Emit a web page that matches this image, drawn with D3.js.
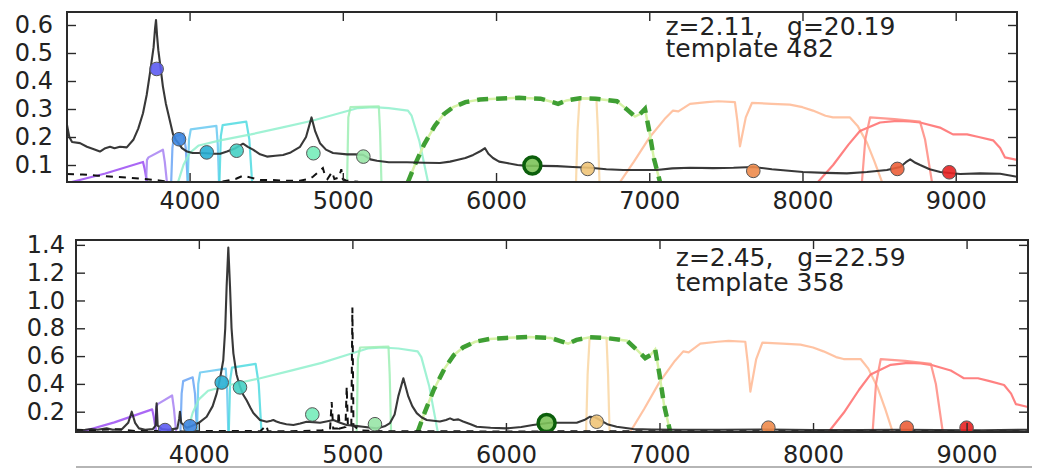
<!DOCTYPE html>
<html><head><meta charset="utf-8">
<script src="https://cdn.jsdelivr.net/npm/d3@7"></script>
<style>
body{margin:0;background:#fff;}
svg{display:block;font-family:"DejaVu Sans","Bitstream Vera Sans",sans-serif;}
</style>
</head><body>
<svg id="c" width="1038" height="469"></svg>
<script>
// ---------------- DATA ----------------
const wlDomain = [3200, 9400];
const wlTicks = [4000, 5000, 6000, 7000, 8000, 9000];
const yTicksTop = [0.1, 0.2, 0.3, 0.4, 0.5, 0.6];
const yTicksBot = [0.2, 0.4, 0.6, 0.8, 1.0, 1.2, 1.4];
const yDomainTop = [0.0393, 0.6464];
const yDomainBot = [0.054, 1.435];
const labelsTop = ["z=2.11,   g=20.19", "template 482"];
const labelsBot = ["z=2.45,   g=22.59", "template 358"];

// filter transmission curves (relative height of the panel, 0..1)
const filterU1 = [[3230,0],[3450,0.05],[3696,0.118],[3706,0.08],[3722,0]];
const filterU2 = [[3716,0],[3722,0.13],[3732,0.145],[3826,0.19],[3838,0.12],[3852,0]];
const filterB1 = [[3880,0],[3888,0.2],[3898,0.265],[3960,0.285],[3975,0.2],[3988,0]];
const filterB2 = [[3988,0],[3996,0.25],[4008,0.31],[4175,0.33],[4184,0.22],[4192,0]];
const filterB3 = [[4195,0],[4204,0.27],[4216,0.335],[4370,0.355],[4390,0.25],[4408,0]];
const filterBroad1 = [[3925,0],[3960,0.1],[4000,0.17],[4060,0.215],[4200,0.245],[4400,0.28],[4600,0.32],[4800,0.36],[5000,0.41],[5100,0.435],[5200,0.44],[5300,0.435],[5425,0.42],[5449,0.39],[5500,0.24],[5556,0]];
const filterN1 = [[5028,0],[5036,0.38],[5050,0.44],[5235,0.445],[5243,0.3],[5252,0]];
const filterR = [[5425,0],[5470,0.1],[5530,0.22],[5600,0.33],[5660,0.4],[5720,0.44],[5800,0.47],[5895,0.485],[6000,0.49],[6150,0.495],[6290,0.49],[6350,0.475],[6405,0.46],[6460,0.48],[6548,0.493],[6650,0.49],[6789,0.475],[6850,0.43],[6907,0.385],[6940,0.4],[6972,0.43],[7000,0.3],[7030,0.14],[7070,0]];
const filterN2 = [[6522,0],[6532,0.3],[6545,0.49],[6655,0.49],[6665,0.3],[6675,0]];
const filterI = [[6809,0],[6900,0.12],[7000,0.26],[7100,0.37],[7155,0.42],[7190,0.415],[7266,0.46],[7377,0.47],[7450,0.475],[7559,0.47],[7575,0.36],[7592,0.21],[7630,0.38],[7670,0.465],[7800,0.46],[7918,0.455],[8000,0.44],[8068,0.42],[8150,0.39],[8199,0.38],[8310,0.38],[8360,0.33],[8421,0.23],[8470,0.12],[8519,0]];
const filterZ = [[8101,0],[8200,0.1],[8300,0.22],[8375,0.3],[8506,0.35],[8617,0.36],[8700,0.357],[8767,0.35],[8897,0.32],[8940,0.3],[8982,0.28],[9074,0.28],[9150,0.265],[9244,0.245],[9290,0.2],[9321,0.145],[9400,0.13]];
const filterN3 = [[8388,0],[8410,0.25],[8441,0.38],[8600,0.37],[8767,0.355],[8800,0.25],[8845,0]];

// observed-frame spectra (flux)
const specTop = [[3200,0.243],[3215,0.2],[3233,0.182],[3285,0.178],[3330,0.165],[3380,0.155],[3415,0.148],[3450,0.16],[3481,0.165],[3510,0.16],[3546,0.165],[3590,0.163],[3633,0.19],[3665,0.23],[3696,0.285],[3720,0.35],[3742,0.43],[3765,0.52],[3775,0.59],[3781,0.618],[3788,0.56],[3796,0.51],[3810,0.45],[3826,0.38],[3845,0.32],[3860,0.285],[3892,0.21],[3910,0.19],[3925,0.18],[3950,0.16],[3983,0.148],[4020,0.143],[4068,0.143],[4110,0.142],[4153,0.14],[4200,0.14],[4244,0.148],[4300,0.16],[4349,0.176],[4380,0.165],[4414,0.155],[4460,0.138],[4505,0.13],[4560,0.133],[4610,0.136],[4660,0.145],[4721,0.165],[4760,0.2],[4796,0.27],[4820,0.22],[4851,0.178],[4890,0.155],[4936,0.143],[5027,0.138],[5080,0.138],[5133,0.136],[5180,0.12],[5223,0.115],[5300,0.11],[5419,0.11],[5530,0.108],[5634,0.107],[5700,0.112],[5745,0.118],[5800,0.125],[5851,0.136],[5900,0.15],[5928,0.16],[5950,0.14],[5980,0.125],[6020,0.112],[6071,0.107],[6140,0.1],[6202,0.097],[6300,0.097],[6398,0.096],[6500,0.093],[6613,0.09],[6720,0.085],[6830,0.082],[6940,0.082],[7049,0.082],[7150,0.088],[7266,0.09],[7416,0.089],[7550,0.09],[7677,0.093],[7800,0.085],[8003,0.075],[8150,0.072],[8290,0.07],[8420,0.075],[8551,0.082],[8638,0.093],[8675,0.11],[8703,0.12],[8730,0.11],[8768,0.1],[8830,0.085],[8899,0.075],[9029,0.068],[9160,0.07],[9290,0.069],[9400,0.058]];
const altTop = [[3200,0.068],[3300,0.066],[3400,0.062],[3500,0.058],[3600,0.055],[3700,0.05],[3800,0.045],[3870,0.04],[3950,0.036],[4100,0.038],[4200,0.04],[4300,0.05],[4350,0.062],[4400,0.055],[4460,0.046],[4545,0.046],[4635,0.044],[4720,0.044],[4780,0.05],[4805,0.058],[4840,0.075],[4870,0.089],[4885,0.06],[4900,0.05],[4930,0.075],[4945,0.05],[4975,0.055],[4990,0.085],[5000,0.05],[5020,0.045],[5100,0.04],[5200,0.035],[9400,0.03]];
const specBot = [[3200,0.065],[3260,0.07],[3300,0.075],[3340,0.07],[3400,0.08],[3440,0.07],[3500,0.075],[3540,0.12],[3563,0.2],[3585,0.12],[3610,0.08],[3650,0.07],[3700,0.075],[3718,0.1],[3725,0.26],[3732,0.1],[3760,0.075],[3800,0.07],[3860,0.08],[3872,0.15],[3877,0.2],[3885,0.12],[3920,0.085],[3950,0.095],[4000,0.12],[4051,0.164],[4090,0.24],[4116,0.33],[4140,0.45],[4159,0.57],[4172,0.8],[4181,1.1],[4192,1.38],[4203,1.1],[4213,0.8],[4225,0.62],[4245,0.47],[4268,0.38],[4290,0.32],[4312,0.28],[4335,0.23],[4355,0.19],[4398,0.14],[4442,0.128],[4470,0.135],[4485,0.14],[4505,0.13],[4529,0.12],[4570,0.11],[4616,0.104],[4660,0.115],[4702,0.128],[4745,0.125],[4789,0.12],[4830,0.13],[4876,0.14],[4920,0.12],[4963,0.104],[5020,0.098],[5069,0.092],[5158,0.08],[5210,0.095],[5245,0.118],[5275,0.18],[5299,0.31],[5332,0.44],[5364,0.31],[5390,0.24],[5419,0.19],[5450,0.16],[5484,0.14],[5570,0.13],[5610,0.14],[5636,0.152],[5660,0.14],[5690,0.145],[5721,0.13],[5770,0.11],[5810,0.092],[5900,0.085],[6005,0.08],[6100,0.09],[6176,0.104],[6287,0.12],[6380,0.12],[6461,0.12],[6510,0.14],[6548,0.164],[6580,0.16],[6613,0.14],[6660,0.11],[6721,0.092],[6829,0.075],[6950,0.072],[7134,0.07],[7400,0.07],[7700,0.072],[8000,0.068],[8300,0.068],[8600,0.07],[8800,0.068],[9100,0.066],[9400,0.07]];
const altBot = [[3200,0.07],[3300,0.065],[3450,0.075],[3600,0.06],[3700,0.062],[3800,0.06],[3900,0.058],[4000,0.06],[4200,0.062],[4400,0.06],[4440,0.1],[4450,0.06],[4600,0.06],[4800,0.065],[4855,0.08],[4865,0.27],[4875,0.08],[4905,0.08],[4910,0.2],[4918,0.08],[4955,0.09],[4963,0.38],[4971,0.09],[4993,0.1],[5000,0.95],[5007,0.1],[5050,0.065],[5200,0.06],[6000,0.058],[7000,0.06],[8000,0.06],[9400,0.058]];

// photometry points
const photWlTop = [3785, 3931, 4112, 4307, 4808, 5134, 6237, 6598, 7679, 8619, 8958];
const photFluxTop = [0.443, 0.192, 0.145, 0.151, 0.142, 0.13, 0.098, 0.086, 0.079, 0.086, 0.074];
const photWlBot = [3780, 3942, 4149, 4268, 4739, 5147, 6265, 6591, 7709, 8610, 9000];
const photFluxBot = [0.068, 0.095, 0.41, 0.375, 0.18, 0.11, 0.118, 0.128, 0.085, 0.085, 0.085];
const selectedBand = 6; // index of the highlighted point

// ---------------- STYLE ----------------
const filters = [filterU1, filterU2, filterB1, filterB2, filterB3, filterBroad1, filterN1, filterN2, filterI, filterZ, filterN3];
const filterColors = ["#9b4cf3", "#a781f2", "#6aa4f4", "#68c9f1", "#4fdbe0", "#8ff0cc", "#9eefb4", "#f9d6a2", "#ffb893", "#ff6b6b", "#ff8a80"];
const photColors = ["#5d5cf2", "#3d86e0", "#29afd4", "#45d0c4", "#77ecba", "#98e6a6", "#7dc35a", "#f0c478", "#ee8b4b", "#ec5f39", "#e82222"];

const svg = d3.select("#c");
const boxTop = {left: 67, top: 12, width: 950, height: 170, xpad: 9.5, ypad: 14, lineGap: 22};
const boxBot = {left: 76, top: 240, width: 952, height: 192, xpad: 14, ypad: 11, lineGap: 25};

function panel(box, yDomain, yTicks, spec, alt, photWl, photFlux, labels, id) {
  const g = svg.append("g").attr("transform", `translate(${box.left},${box.top})`);
  const x = d3.scaleLinear().domain(wlDomain).range([0, box.width]);
  const y = d3.scaleLinear().domain(yDomain).range([box.height, 0]);
  const yf = d3.scaleLinear().domain([0, 1]).range([box.height, 0]);

  svg.append("defs").append("clipPath").attr("id", id)
    .append("rect").attr("width", box.width).attr("height", box.height);
  const plot = g.append("g").attr("clip-path", `url(#${id})`);

  const lineF = d3.line().x(d => x(d[0])).y(d => yf(d[1]));
  const lineS = d3.line().x(d => x(d[0])).y(d => y(d[1]));

  filters.forEach((f, i) => {
    plot.append("path").datum(f).attr("d", lineF)
      .attr("fill", "none").attr("stroke", filterColors[i])
      .attr("stroke-width", 2.2).attr("stroke-opacity", 0.85)
      .attr("stroke-linejoin", "round");
  });
  // selection band (dashed green)
  plot.append("path").datum(filterR).attr("d", lineF)
    .attr("fill", "none").attr("stroke", "#d6f2a6").attr("stroke-width", 2.5);
  plot.append("path").datum(filterR).attr("d", lineF)
    .attr("fill", "none").attr("stroke", "#3f9f33").attr("stroke-width", 4.5)
    .attr("stroke-dasharray", "11,8");

  plot.append("path").datum(alt).attr("d", lineS)
    .attr("fill", "none").attr("stroke", "#111").attr("stroke-width", 2)
    .attr("stroke-dasharray", "7,6");
  plot.append("path").datum(spec).attr("d", lineS)
    .attr("fill", "none").attr("stroke", "#222").attr("stroke-width", 2.1)
    .attr("stroke-opacity", 0.9).attr("stroke-linejoin", "round");

  const pts = photWl.map((w, i) => ({w, f: photFlux[i], i}));
  plot.selectAll("circle.p").data(pts).join("circle").attr("class", "p")
    .attr("cx", d => x(d.w)).attr("cy", d => y(d.f))
    .attr("r", d => d.i === selectedBand ? 8.5 : 6.8)
    .attr("fill", d => photColors[d.i]).attr("fill-opacity", 0.9)
    .attr("stroke", d => d.i === selectedBand ? "#0b5e0b" : "#555")
    .attr("stroke-width", d => d.i === selectedBand ? 3.5 : 1);

  // axes (ticks inward on all sides)
  const fs = "24px";
  const ax = (sel) => { sel.select(".domain").remove(); sel.selectAll("line").attr("stroke", "#2a2a2a").attr("stroke-width", 1.4); sel.selectAll("text").attr("fill", "#222").style("font-size", fs).style("font-family", "DejaVu Sans"); };
  g.append("g").attr("transform", `translate(0,${box.height})`)
    .call(d3.axisBottom(x).tickValues(wlTicks).tickSize(-9).tickPadding(box.xpad).tickFormat(d3.format("d"))).call(ax);
  g.append("g").call(d3.axisTop(x).tickValues(wlTicks).tickSize(-9).tickFormat("")).call(ax);
  g.append("g").call(d3.axisLeft(y).tickValues(yTicks).tickSize(-9).tickPadding(box.ypad).tickFormat(d3.format(".1f"))).call(ax);
  g.append("g").attr("transform", `translate(${box.width},0)`)
    .call(d3.axisRight(y).tickValues(yTicks).tickSize(-9).tickFormat("")).call(ax);

  g.append("rect").attr("width", box.width).attr("height", box.height)
    .attr("fill", "none").attr("stroke", "#2a2a2a").attr("stroke-width", 2);

  const t = g.append("text").attr("fill", "#222").style("font-size", "25px")
    .style("white-space", "pre").attr("transform", `translate(${box.width * 0.63},${box.height * 0.136})`);
  t.append("tspan").attr("x", 0).attr("y", 0).text(labels[0]);
  t.append("tspan").attr("x", 0).attr("y", box.lineGap).text(labels[1]);
  return g;
}

panel(boxTop, yDomainTop, yTicksTop, specTop, altTop, photWlTop, photFluxTop, labelsTop, "clipTop");
panel(boxBot, yDomainBot, yTicksBot, specBot, altBot, photWlBot, photFluxBot, labelsBot, "clipBot");

// top edge of a third (cut-off) panel
svg.append("line").attr("x1", boxBot.left).attr("x2", boxBot.left + boxBot.width + 4)
  .attr("y1", 467).attr("y2", 467).attr("stroke", "#b5b5b5").attr("stroke-width", 2);
</script>
</body></html>
